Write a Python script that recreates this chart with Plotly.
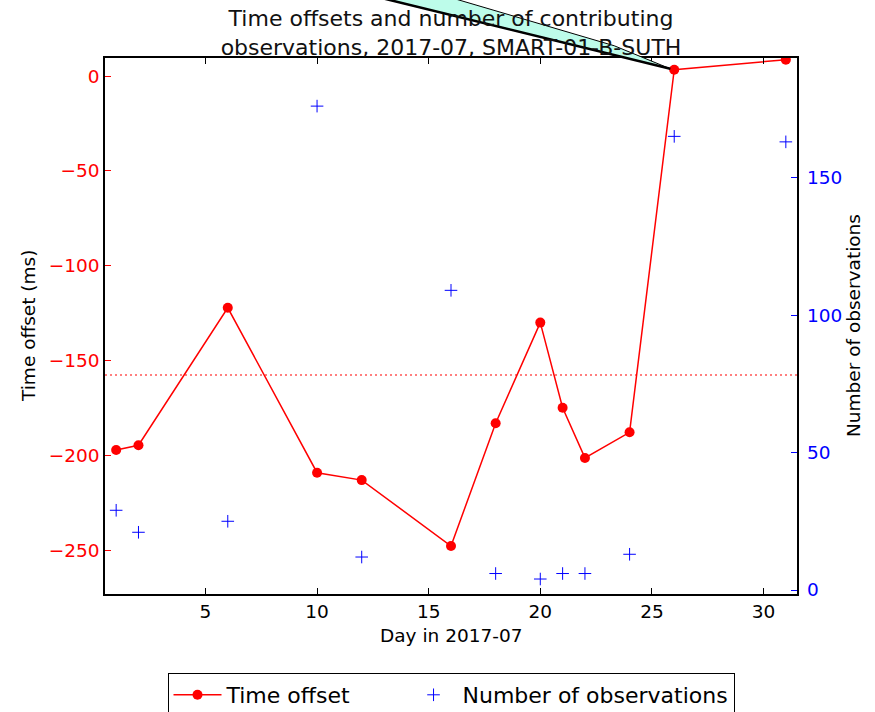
import plotly.graph_objects as go

# Daily time offsets and observation counts for SMART-01-B-SUTH, July 2017
days = [1, 2, 6, 10, 12, 16, 18, 20, 21, 22, 24, 26, 31]
offset_ms = [-197.2, -194.7, -122.2, -209.2, -213.1, -247.9, -183.1,
             -130.0, -174.9, -201.4, -187.9, 3.4, 8.7]
n_obs = [29, 21, 25, 176, 12, 109, 6, 4, 6, 6, 13, 165, 163]

x_ticks = [5, 10, 15, 20, 25, 30]
y_ticks = [0, -50, -100, -150, -200, -250]
y2_ticks = [0, 50, 100, 150]

X_RANGE = [0.5, 31.5]
Y_RANGE = [-273.2, 9.6]
Y2_RANGE = [-1.45, 193.5]

W, H = 875, 712
M = dict(l=105, r=78, t=58, b=118)
PW = W - M["l"] - M["r"]
PH = H - M["t"] - M["b"]

FONT = "DejaVu Sans"
NBSP = "\u00a0"
mean_offset = sum(offset_ms) / len(offset_ms)

fig = go.Figure()

fig.add_trace(go.Scatter(
    x=days, y=offset_ms, name="Time offset" + NBSP * 7,
    mode="lines+markers",
    line=dict(color="#ff0000", width=1.5),
    marker=dict(color="#ff0000", size=10, symbol="circle"),
    yaxis="y",
))
fig.add_trace(go.Scatter(
    x=days, y=n_obs, name="Number of observations", mode="markers",
    marker=dict(symbol="cross-thin", size=9, color="#0000ff",
                line=dict(color="#0000ff", width=1)),
    yaxis="y2",
))

# mean offset reference line
fig.add_shape(type="line", xref="paper", x0=0, x1=1, yref="y",
              y0=mean_offset, y1=mean_offset,
              line=dict(color="#ff0000", width=1.2, dash="2px,3px"))

# callout pointer aimed at the day-26 offset
pt_x, pt_y = days[11], offset_ms[11]
ax_frac = (pt_x - X_RANGE[0]) / (X_RANGE[1] - X_RANGE[0])
ay_frac = (pt_y - Y_RANGE[0]) / (Y_RANGE[1] - Y_RANGE[0])
fig.add_shape(type="path", xref="paper", yref="paper",
              xsizemode="pixel", ysizemode="pixel",
              xanchor=ax_frac, yanchor=ay_frac,
              path="M -408,100 L -318,100 L -60,24 L -4,1 Z",
              fillcolor="#bdfcea", line=dict(color="black", width=1),
              layer="above")
fig.add_shape(type="path", xref="paper", yref="paper",
              xsizemode="pixel", ysizemode="pixel",
              xanchor=ax_frac, yanchor=ay_frac,
              path="M -408,100 L -4,1",
              line=dict(color="black", width=2.5),
              layer="above")

axis_common = dict(showgrid=False, zeroline=False, ticks="inside",
                   ticklen=6, tickwidth=1,
                   tickfont=dict(family=FONT, size=18.5))

fig.update_layout(
    width=W, height=H,
    margin=dict(**M, autoexpand=False),
    paper_bgcolor="white", plot_bgcolor="white",
    font=dict(family=FONT, color="black"),
    title=dict(text="Time offsets and number of contributing<br>observations, 2017-07, SMART-01-B-SUTH",
               x=0.5, xref="paper", xanchor="center",
               y=1 - 26 / H, yref="container", yanchor="middle",
               font=dict(family=FONT, size=22, color="#111111")),
    xaxis=dict(range=X_RANGE, tickvals=x_ticks, showline=True,
               linecolor="black", linewidth=1.5, mirror="ticks",
               tickcolor="black", **axis_common),
    yaxis=dict(range=Y_RANGE, tickvals=y_ticks,
               ticktext=[str(v).replace("-", "\u2212") for v in y_ticks],
               showline=True, linecolor="black", linewidth=1.5, mirror=True,
               tickcolor="#ff0000", color="#ff0000", **axis_common),
    yaxis2=dict(range=Y2_RANGE, tickvals=y2_ticks, overlaying="y",
                side="right", showline=False, tickcolor="#0000ff",
                color="#0000ff", ticklabelstandoff=9, **axis_common),
    showlegend=True,
    legend=dict(orientation="h", x=0.5, xanchor="center",
                y=-79 / PH, yanchor="top", itemwidth=48,
                bordercolor="black", borderwidth=1, bgcolor="white",
                font=dict(family=FONT, size=22, color="black")),
    annotations=[
        dict(text="Time offset (ms)", xref="paper", yref="paper",
             x=(28 - M["l"]) / PW, y=0.5, textangle=-90, showarrow=False,
             xanchor="center", yanchor="middle",
             font=dict(family=FONT, size=18.5, color="black")),
        dict(text="Number of observations", xref="paper", yref="paper",
             x=(853 - M["l"]) / PW, y=0.5, textangle=-90, showarrow=False,
             xanchor="center", yanchor="middle",
             font=dict(family=FONT, size=18.5, color="black")),
        dict(text="Day in 2017-07", xref="paper", yref="paper",
             x=0.5, y=-(635 - (H - M["b"])) / PH, showarrow=False,
             xanchor="center", yanchor="middle",
             font=dict(family=FONT, size=18.5, color="black")),
    ],
)

fig.write_html("out.html")
